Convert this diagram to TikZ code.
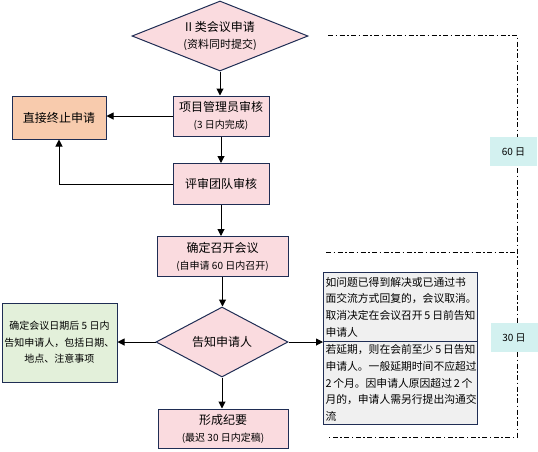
\documentclass[tikz,border=0pt]{standalone}
\usepackage{fontspec}
\setmainfont{Noto Sans CJK SC}
\usetikzlibrary{shapes.geometric,arrows.meta}
\definecolor{pinkF}{HTML}{FADBDF}
\definecolor{navy}{HTML}{1F2D54}
\definecolor{orangeF}{HTML}{F8CBAD}
\definecolor{greenF}{HTML}{E3F0DA}
\definecolor{grayF}{HTML}{F0F0F0}
\definecolor{cyanF}{HTML}{D3F1F0}
\begin{document}
\begin{tikzpicture}[x=1pt,y=-1pt,
 box/.style={draw=navy,line width=1pt,fill=pinkF,inner sep=0pt,align=center,font=\fontsize{12}{17}\selectfont},
 dia/.style={diamond,draw=navy,line width=1pt,fill=pinkF,inner sep=0pt,align=center,font=\fontsize{12}{17}\selectfont,aspect=2.5},
 arr/.style={draw=black,line width=1pt,-{Triangle[length=7pt,width=7pt]}},
 dd/.style={line width=0.9pt,dash pattern=on 5pt off 2.5pt on 1.5pt off 2.5pt},
 lab/.style={fill=cyanF,inner sep=0pt,minimum width=47pt,minimum height=29pt,font=\fontsize{10}{12}\selectfont},
 note/.style={draw=navy,line width=1pt,fill=grayF,inner sep=2pt,align=left,text width=150pt,anchor=north west,font=\fontsize{10.8}{16.6}\selectfont},
 sub/.style={font=\fontsize{10}{12}\selectfont}
]
\path[use as bounding box] (0,0) rectangle (538,451);

% dash-dot brackets
\coordinate (t1) at (328,35);
\coordinate (t2) at (517,35);
\coordinate (m1) at (326,252);
\coordinate (m2) at (517,252);
\coordinate (b1) at (328,437);
\coordinate (b2) at (517,437);
\draw[dd] (t1) -- (t2) -- (b2) -- (b1);
\draw[dd] (m1) -- (m2);
\node[lab] (lab60) at (513.5,151.5) {60 日};
\node[lab] (lab30) at (514,337.5) {30 日};

\node[dia,minimum width=176pt,minimum height=70pt] (d1) at (220,36) {II 类会议申请\\{\fontsize{11}{14}\selectfont(资料同时提交)}};
\node[box,minimum width=96pt,minimum height=40pt] (pm) at (221,116) {项目管理员审核\\{\fontsize{10}{12}\selectfont(3 日内完成)}};
\node[box,fill=orangeF,minimum width=94pt,minimum height=43pt] (stop) at (59,117.5) {直接终止申请};
\node[box,minimum width=96pt,minimum height=41pt] (team) at (221,184) {评审团队审核};
\node[box,minimum width=131pt,minimum height=40pt] (conf) at (222.5,256.5) {确定召开会议\\{\fontsize{10}{12}\selectfont(自申请 60 日内召开)}};
\node[dia,minimum width=132pt,minimum height=70pt] (d2) at (222,342) {告知申请人};
\node[box,fill=greenF,minimum width=115pt,minimum height=79pt,font=\fontsize{10}{16.5}\selectfont] (notify) at (59.5,342.5) {确定会议日期后 5 日内\\告知申请人，包括日期、\\地点、注意事项};
\node[note,minimum height=69pt] (cancel) at (323,272) {如问题已得到解决或已通过书\\面交流方式回复的，会议取消。\\取消决定在会议召开\,5\,日前告知\\申请人};
\node[note,minimum height=83pt] (delay) at (323,341) {若延期，则在会前至少\,5\,日告知\\申请人。一般延期时间不应超过\\2\,个月。因申请人原因超过\,2\,个\\月的，申请人需另行提出沟通交\\流};
\node[box,minimum width=130pt,minimum height=39pt] (mins) at (223,428.5) {形成纪要\\{\fontsize{10}{12}\selectfont(最迟 30 日内定稿)}};

\draw[arr] (d1.south) -- (d1.south |- pm.north);
\draw[arr] (pm.west) -- (stop.east |- pm.west);
\draw[arr] (pm.south) -- (team.north);
\draw[arr] (team.west) -| (stop.south);
\draw[arr] (team.south) -- (team.south |- conf.north);
\draw[arr] (conf.south) -- (conf.south |- d2.north);
\draw[arr] (d2.west) -- (notify.east |- d2.west);
\draw[arr] (d2.east) -- (d2.east -| cancel.west);
\draw[arr] (d2.south) -- (d2.south |- mins.north);
\end{tikzpicture}
\end{document}
